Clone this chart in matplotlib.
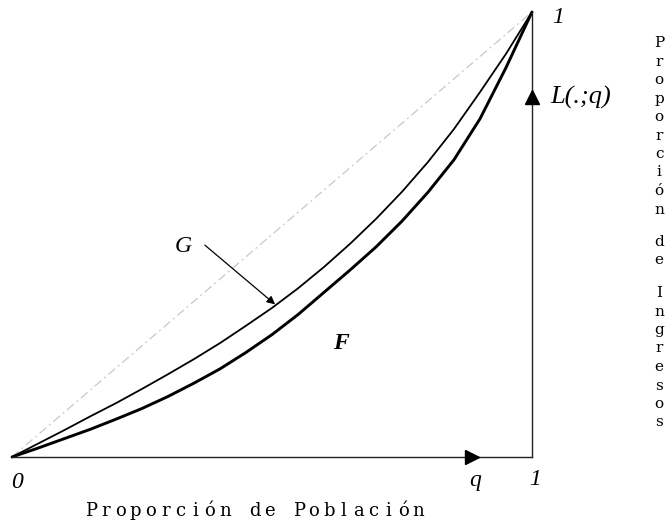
"""Curva de Lorenz: curvas G y F con la diagonal de igualdad."""
import matplotlib
matplotlib.use("Agg")
import matplotlib.pyplot as plt

# proporcion de poblacion (q) y proporcion de ingresos L(.;q)
Q = [0.0, 0.05, 0.10, 0.15, 0.20, 0.25, 0.30, 0.35, 0.40, 0.45, 0.50,
     0.55, 0.60, 0.65, 0.70, 0.75, 0.80, 0.85, 0.90, 0.95, 1.0]
L_G = [0.0, 0.030, 0.060, 0.091, 0.121, 0.153, 0.186, 0.220, 0.256, 0.295, 0.335,
       0.379, 0.427, 0.479, 0.535, 0.596, 0.663, 0.737, 0.820, 0.906, 1.0]
L_F = [0.0, 0.020, 0.041, 0.062, 0.085, 0.109, 0.136, 0.166, 0.198, 0.235, 0.275,
       0.320, 0.370, 0.420, 0.472, 0.530, 0.595, 0.668, 0.760, 0.875, 1.0]

Q_EQ = [0.0, 1.0]
L_EQ = [0.0, 1.0]

XLABEL = "Proporción de Población"
YLABEL = ["Proporción", "de", "Ingresos"]

SERIF = "Liberation Serif"
LETTERS = "DejaVu Serif"

W, H = 665, 525


def main():
    fig = plt.figure(figsize=(W / 100, H / 100), dpi=100)
    # origin at pixel (12, 457), corner (1,1) at pixel (532, 12)
    ax = fig.add_axes([12 / W, (H - 457) / H, 520 / W, 445 / H])
    ax.set_xlim(0, 1)
    ax.set_ylim(0, 1)
    ax.axis("off")

    # equality diagonal
    ax.plot(Q_EQ, L_EQ, color="#c8c8c8", lw=0.9, ls=(0, (7, 3, 1.5, 3)),
            clip_on=False)

    # curves
    ax.plot(Q, L_G, color="black", lw=1.3, clip_on=False,
            solid_capstyle="round", solid_joinstyle="round")
    ax.plot(Q, L_F, color="black", lw=2.1, clip_on=False,
            solid_capstyle="round", solid_joinstyle="round")

    # axes frame with arrows
    ax.plot([0, 1], [0, 0], color="#222222", lw=1.0, clip_on=False)
    ax.plot([1, 1], [0, 1], color="#222222", lw=1.0, clip_on=False)
    ax.plot([0.885], [0], marker=">", color="black", ms=10, clip_on=False)
    ax.plot([1], [0.81], marker="^", color="black", ms=10, clip_on=False)

    # G pointer
    ax.annotate("", xy=(0.506, 0.343), xytext=(0.371, 0.476),
                arrowprops=dict(arrowstyle="-|>", color="black", lw=0.9,
                                mutation_scale=12, shrinkA=0, shrinkB=0))

    it = dict(family=SERIF, style="italic", color="black", clip_on=False)
    ax.text(0.329, 0.472, "G", fontsize=17, ha="center", va="center", **it)
    ax.text(0.633, 0.256, "F", fontsize=17, ha="center", va="center",
            fontweight="bold", **it)
    ax.text(0.010, -0.057, "0", fontsize=17, ha="center", va="center", **it)
    ax.text(0.890, -0.053, "q", fontsize=17, ha="center", va="center", **it)
    ax.text(1.006, -0.050, "1", fontsize=17, ha="center", va="center", **it)
    ax.text(1.050, 0.988, "1", fontsize=17, ha="center", va="center", **it)
    ax.text(1.035, 0.809, "L(.;q)", fontsize=19, ha="left", va="center", **it)

    # letter-spaced x label
    x0, x1, yb = 91, 418, 511
    step = (x1 - x0) / (len(XLABEL) - 1)
    for i, ch in enumerate(XLABEL):
        fig.text((x0 + i * step) / W, 1 - yb / H, ch, family=LETTERS,
                 fontsize=13, ha="center", va="center", color="black")

    # stacked y label
    y = 43
    for word in YLABEL:
        for ch in word:
            fig.text(659 / W, 1 - y / H, ch, family=LETTERS, fontsize=11,
                     ha="center", va="center", color="black")
            y += 18.5
        y += 14

    fig.savefig("out.png", dpi=100, facecolor="white")


if __name__ == "__main__":
    main()
